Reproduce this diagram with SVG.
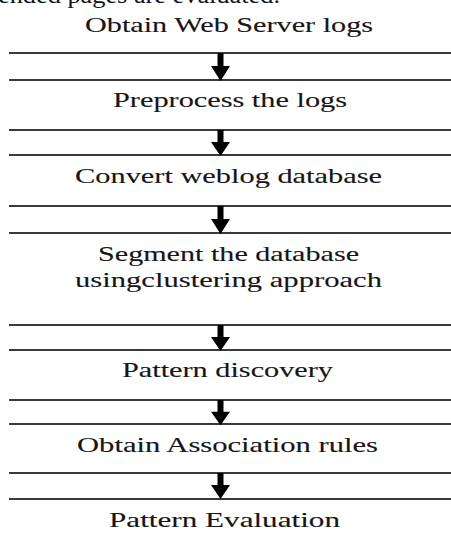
<svg xmlns="http://www.w3.org/2000/svg" width="451" height="547" viewBox="0 0 451 547">
  <style>
    .step { font-family: "Liberation Serif", "Times New Roman", serif; font-size: 21px; fill: #161616; stroke: #161616; stroke-width: 0.12; }
    .body { font-family: "Liberation Serif", "Times New Roman", serif; font-size: 24px; fill: #111; }
    .rule { stroke: #3a3a3a; stroke-width: 2; fill: none; }
    .arrow { fill: #000; }
  </style>
  <defs>
    <!-- down arrow spanning one gap, tip at local y = h -->
    <path id="arr" d="M-3,0 H3 V13 H9.5 L0,28 L-9.5,13 H-3 Z"/>
  </defs>
  <rect width="451" height="547" fill="#fff"/>

  <!-- trailing line of preceding paragraph -->
  <text class="body" x="-2" y="3" textLength="282" lengthAdjust="spacingAndGlyphs">ended pages are evaluated.</text>

  <!-- horizontal rules framing each step -->
  <g id="rules">
    <line class="rule" x1="9" y1="53" x2="451" y2="53"/>
    <line class="rule" x1="9" y1="80" x2="451" y2="80"/>
    <line class="rule" x1="9" y1="130" x2="451" y2="130"/>
    <line class="rule" x1="9" y1="155" x2="451" y2="155"/>
    <line class="rule" x1="9" y1="206" x2="451" y2="206"/>
    <line class="rule" x1="9" y1="233" x2="451" y2="233"/>
    <line class="rule" x1="9" y1="325" x2="451" y2="325"/>
    <line class="rule" x1="9" y1="350" x2="451" y2="350"/>
    <line class="rule" x1="9" y1="400" x2="451" y2="400"/>
    <line class="rule" x1="9" y1="424" x2="451" y2="424"/>
    <line class="rule" x1="9" y1="473" x2="451" y2="473"/>
    <line class="rule" x1="9" y1="499" x2="451" y2="499"/>
  </g>

  <g id="step-obtain-logs">
    <text class="step" x="85" y="32" textLength="288" lengthAdjust="spacingAndGlyphs">Obtain Web Server logs</text>
  </g>
  <g id="step-preprocess">
    <text class="step" x="113" y="107" textLength="234" lengthAdjust="spacingAndGlyphs">Preprocess the logs</text>
  </g>
  <g id="step-convert">
    <text class="step" x="75" y="183" textLength="307" lengthAdjust="spacingAndGlyphs">Convert weblog database</text>
  </g>
  <g id="step-segment">
    <text class="step" x="98" y="261" textLength="261" lengthAdjust="spacingAndGlyphs">Segment the database</text>
    <text class="step" x="75" y="287" textLength="307" lengthAdjust="spacingAndGlyphs">usingclustering approach</text>
  </g>
  <g id="step-pattern-discovery">
    <text class="step" x="122" y="377" textLength="211" lengthAdjust="spacingAndGlyphs">Pattern discovery</text>
  </g>
  <g id="step-association">
    <text class="step" x="77" y="452" textLength="301" lengthAdjust="spacingAndGlyphs">Obtain Association rules</text>
  </g>
  <g id="step-evaluation">
    <text class="step" x="109" y="527" textLength="231" lengthAdjust="spacingAndGlyphs">Pattern Evaluation</text>
  </g>

  <g id="connectors" class="arrow">
    <use href="#arr" transform="translate(220.5,53)"/>
    <use href="#arr" transform="translate(220.5,130) scale(1,0.93)"/>
    <use href="#arr" transform="translate(220.5,206)"/>
    <use href="#arr" transform="translate(220.5,325) scale(1,0.93)"/>
    <use href="#arr" transform="translate(220.5,400) scale(1,0.9)"/>
    <use href="#arr" transform="translate(220.5,473) scale(1,0.93)"/>
  </g>
</svg>
